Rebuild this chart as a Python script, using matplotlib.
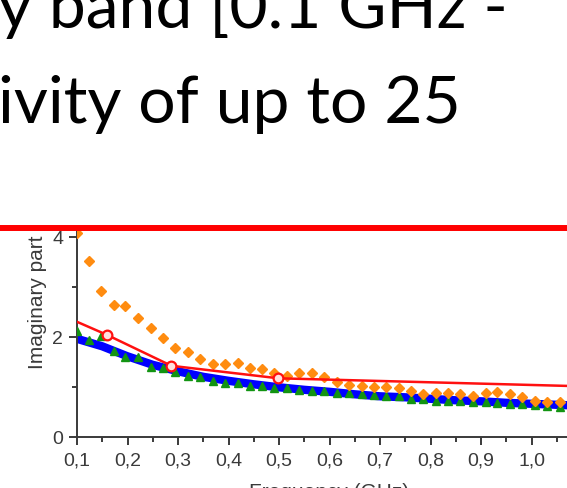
import matplotlib
matplotlib.use("Agg")
import matplotlib.pyplot as plt
from matplotlib.lines import Line2D

# slide text (cropped)
line1 = "y band [0.1 GHz -"
line2 = "ivity of up to 25"

# chart data
freq = [0.100, 0.124, 0.148, 0.173, 0.196, 0.221, 0.246, 0.271, 0.295, 0.320,
        0.344, 0.369, 0.393, 0.418, 0.443, 0.467, 0.491, 0.516, 0.540, 0.566,
        0.590, 0.614, 0.639, 0.664, 0.688, 0.712, 0.737, 0.761, 0.785, 0.810,
        0.835, 0.858, 0.884, 0.909, 0.932, 0.957, 0.982, 1.006, 1.031, 1.056]
orange_y = [4.08, 3.53, 2.93, 2.65, 2.63, 2.38, 2.18, 1.98, 1.79, 1.70,
            1.56, 1.47, 1.47, 1.49, 1.39, 1.37, 1.28, 1.23, 1.28, 1.28,
            1.20, 1.11, 1.05, 1.03, 1.01, 1.00, 0.99, 0.93, 0.87, 0.89,
            0.89, 0.87, 0.83, 0.89, 0.91, 0.87, 0.80, 0.73, 0.71, 0.71]
green_y = [2.13, 1.95, 2.03, 1.73, 1.61, 1.60, 1.41, 1.39, 1.31, 1.23,
           1.21, 1.13, 1.09, 1.08, 1.03, 1.03, 0.99, 0.98, 0.95, 0.92,
           0.93, 0.88, 0.88, 0.87, 0.85, 0.83, 0.83, 0.77, 0.77, 0.73,
           0.73, 0.73, 0.70, 0.71, 0.69, 0.66, 0.67, 0.64, 0.62, 0.61]

blue_x = [0.10, 0.15, 0.20, 0.25, 0.30, 0.35, 0.40, 0.45, 0.50, 0.55, 0.60,
          0.65, 0.70, 0.75, 0.80, 0.85, 0.90, 0.95, 1.00, 1.05, 1.10]
blue_y = [1.97, 1.82, 1.62, 1.45, 1.32, 1.21, 1.13, 1.06, 1.00, 0.95, 0.91,
          0.86, 0.82, 0.80, 0.77, 0.74, 0.72, 0.69, 0.67, 0.65, 0.63]

red_x = [0.100, 0.159, 0.287, 0.499, 1.100]
red_y = [2.31, 2.05, 1.43, 1.18, 1.02]

xticks = [0.1, 0.2, 0.3, 0.4, 0.5, 0.6, 0.7, 0.8, 0.9, 1.0, 1.1]
yticks = [0, 2, 4]

W, H = 567, 488
fig = plt.figure(figsize=(W / 100, H / 100), dpi=100)
fig.patch.set_facecolor("white")

# slide title text
fig.text(-2 / W, 1 - 28 / H, line1, fontsize=47.5, family="Lato",
         ha="left", va="baseline", color="black")
fig.text(-2 / W, 1 - 123 / H, line2, fontsize=47.5, family="Lato",
         ha="left", va="baseline", color="black")

# axes: x 0.1 at px 77, 1.1 at px 582; y 0 at px 437, 4.2 at px 227
ax_l, ax_r = 77, 582
ax_b, ax_t = 437.3, 227.3
ax = fig.add_axes([ax_l / W, 1 - ax_b / H, (ax_r - ax_l) / W, (ax_b - ax_t) / H])
ax.set_xlim(0.1, 1.1)
ax.set_ylim(0, 4.2)

gray = "#3a3a3a"
ax.plot(blue_x, blue_y, color="#0000ff", lw=6, solid_capstyle="butt", zorder=2)
ax.plot(freq, green_y, ls="none", marker="^", ms=6, color="#129412", zorder=3)
ax.plot(freq, orange_y, ls="none", marker="D", ms=5.5, color="#ff8c10", zorder=4)
ax.plot(red_x, red_y, color="#ff1010", lw=1.8, marker="o", ms=7,
        markevery=[1, 2, 3], markerfacecolor="#ffe0e0", markeredgewidth=1.6,
        zorder=5)

ax.set_xticks(xticks)
ax.set_xticklabels([f"{t:.1f}".replace(".", ",") for t in xticks])
ax.set_xticks([0.15 + 0.1 * i for i in range(10)], minor=True)
ax.set_yticks(yticks)
ax.set_yticks([1, 3], minor=True)

ax.tick_params(which="major", direction="out", length=6, width=1.4,
               color=gray, labelcolor=gray, labelsize=14, pad=4)
ax.tick_params(which="minor", direction="out", length=3.5, width=1.4, color=gray)
ax.tick_params(axis="x", which="major", pad=5)
for s in ax.spines.values():
    s.set_color(gray)
    s.set_linewidth(1.4)

ax.set_ylabel("Imaginary part", fontsize=15, color=gray,
              family="Liberation Sans")
ax.yaxis.set_label_coords(-0.059, 0.644)
ax.set_xlabel("Frequency (GHz)", fontsize=15, color=gray, labelpad=9.5,
              family="Liberation Sans")
for lab in ax.get_xticklabels() + ax.get_yticklabels():
    lab.set_family("Liberation Sans")

# red rule across the slide
fig.add_artist(Line2D([0, 1], [1 - 228 / H, 1 - 228 / H], color="#ff0000",
                      lw=4.3, transform=fig.transFigure, zorder=10))

fig.savefig("out.png", dpi=100)
